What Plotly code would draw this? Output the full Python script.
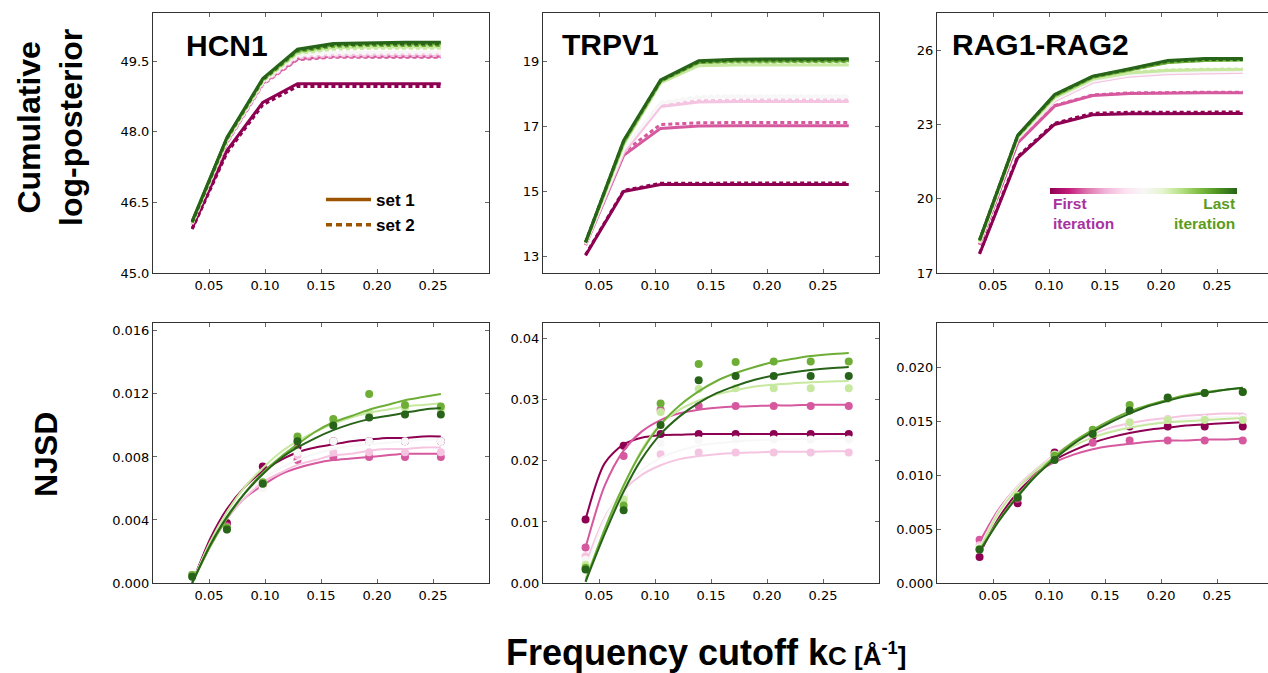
import plotly.graph_objects as go

W, H = 1268, 673

# ---------------- data ----------------
iter_colors = ["#8e0152", "#d6589e", "#f5c4e1", "#f7f7f7", "#c7e89f", "#6eae36", "#276419"]
set_color = "#9c5400"

x_ticks = [0.05, 0.10, 0.15, 0.20, 0.25]
x_ticktext = ["0.05", "0.10", "0.15", "0.20", "0.25"]

# HCN1
kc_hcn1 = [0.035, 0.066, 0.098, 0.129, 0.161, 0.193, 0.225, 0.257]
hcn1_lp_set1 = [
    [45.95, 47.60, 48.62, 49.02, 49.02, 49.02, 49.02, 49.02],
    [46.05, 47.78, 49.03, 49.55, 49.60, 49.60, 49.60, 49.60],
    [46.06, 47.80, 49.05, 49.60, 49.64, 49.65, 49.65, 49.65],
    [46.07, 47.82, 49.07, 49.63, 49.68, 49.69, 49.69, 49.69],
    [46.08, 47.84, 49.09, 49.68, 49.78, 49.80, 49.80, 49.80],
    [46.09, 47.86, 49.11, 49.72, 49.84, 49.86, 49.86, 49.86],
    [46.10, 47.88, 49.13, 49.75, 49.87, 49.89, 49.90, 49.90],
]
hcn1_lp_set2 = [
    [45.93, 47.55, 48.57, 48.96, 48.96, 48.96, 48.96, 48.96],
    [46.03, 47.76, 49.00, 49.53, 49.58, 49.58, 49.58, 49.58],
    [46.04, 47.78, 49.02, 49.57, 49.61, 49.62, 49.62, 49.62],
    [46.05, 47.80, 49.04, 49.60, 49.65, 49.66, 49.66, 49.66],
    [46.06, 47.82, 49.07, 49.66, 49.75, 49.77, 49.77, 49.77],
    [46.07, 47.84, 49.09, 49.70, 49.81, 49.83, 49.83, 49.83],
    [46.08, 47.86, 49.11, 49.73, 49.84, 49.86, 49.86, 49.86],
]
hcn1_njsd = [
    [0.0005, 0.0038, 0.0074, 0.0086, 0.0090, 0.0090, 0.0090, 0.0090],
    [0.0005, 0.0036, 0.0062, 0.0078, 0.0080, 0.0080, 0.0080, 0.0080],
    [0.0005, 0.0035, 0.0061, 0.0081, 0.0083, 0.0083, 0.0083, 0.0083],
    [0.0005, 0.0034, 0.0060, 0.0083, 0.0090, 0.0090, 0.0090, 0.0090],
    [0.0005, 0.0034, 0.0063, 0.0091, 0.0102, 0.0108, 0.0111, 0.0110],
    [0.0005, 0.0035, 0.0064, 0.0093, 0.0104, 0.0120, 0.0113, 0.0112],
    [0.0004, 0.0034, 0.0063, 0.0090, 0.0100, 0.0105, 0.0107, 0.0107],
]
kc_fit_hcn1 = [0.035, 0.051, 0.066, 0.082, 0.098, 0.114, 0.129, 0.145,
               0.161, 0.177, 0.193, 0.209, 0.225, 0.241, 0.257]
hcn1_fit = [
    [0.0000, 0.0028, 0.0047, 0.0061, 0.0071, 0.0078, 0.0083, 0.0086, 0.0088, 0.0090, 0.0091, 0.0092, 0.0092, 0.0093, 0.0093],
    [0.0000, 0.0025, 0.0041, 0.0054, 0.0062, 0.0069, 0.0073, 0.0076, 0.0078, 0.0079, 0.0080, 0.0081, 0.0082, 0.0082, 0.0082],
    [0.0000, 0.0025, 0.0041, 0.0054, 0.0064, 0.0070, 0.0075, 0.0078, 0.0081, 0.0082, 0.0084, 0.0085, 0.0085, 0.0086, 0.0086],
    [0.0000, 0.0025, 0.0043, 0.0056, 0.0066, 0.0073, 0.0078, 0.0082, 0.0085, 0.0087, 0.0088, 0.0089, 0.0090, 0.0091, 0.0091],
    [0.0000, 0.0026, 0.0045, 0.0061, 0.0073, 0.0083, 0.0090, 0.0096, 0.0101, 0.0105, 0.0108, 0.0110, 0.0112, 0.0113, 0.0114],
    [0.0000, 0.0023, 0.0041, 0.0057, 0.0070, 0.0080, 0.0088, 0.0096, 0.0102, 0.0106, 0.0110, 0.0113, 0.0116, 0.0118, 0.0120],
    [0.0000, 0.0024, 0.0042, 0.0057, 0.0069, 0.0079, 0.0086, 0.0092, 0.0097, 0.0101, 0.0104, 0.0106, 0.0108, 0.0110, 0.0111],
]

# TRPV1
kc_trpv1 = [0.038, 0.072, 0.105, 0.139, 0.172, 0.206, 0.239, 0.273]
trpv1_lp_set1 = [
    [13.04, 15.01, 15.22, 15.22, 15.22, 15.22, 15.22, 15.22],
    [13.36, 16.12, 16.95, 17.02, 17.03, 17.03, 17.03, 17.03],
    [13.38, 16.20, 17.62, 17.76, 17.78, 17.78, 17.78, 17.78],
    [13.40, 16.30, 17.72, 17.90, 17.93, 17.93, 17.93, 17.93],
    [13.42, 16.45, 18.35, 18.88, 18.90, 18.90, 18.90, 18.90],
    [13.44, 16.52, 18.40, 18.98, 19.02, 19.03, 19.03, 19.03],
    [13.45, 16.58, 18.44, 19.03, 19.08, 19.09, 19.09, 19.09],
]
trpv1_lp_set2 = [
    [13.06, 15.04, 15.26, 15.27, 15.27, 15.27, 15.27, 15.27],
    [13.37, 16.22, 17.07, 17.12, 17.13, 17.13, 17.13, 17.13],
    [13.39, 16.25, 17.66, 17.80, 17.82, 17.82, 17.82, 17.82],
    [13.41, 16.33, 17.75, 17.94, 17.96, 17.96, 17.96, 17.96],
    [13.43, 16.47, 18.37, 18.90, 18.92, 18.92, 18.92, 18.92],
    [13.44, 16.53, 18.41, 18.98, 19.00, 19.01, 19.01, 19.01],
    [13.45, 16.56, 18.42, 19.00, 19.05, 19.06, 19.06, 19.06],
]
trpv1_njsd = [
    [0.0104, 0.0225, 0.0244, 0.0244, 0.0244, 0.0244, 0.0244, 0.0244],
    [0.0058, 0.0208, 0.0284, 0.0290, 0.0290, 0.0290, 0.0290, 0.0290],
    [0.0044, 0.0143, 0.0211, 0.0214, 0.0214, 0.0214, 0.0214, 0.0214],
    [0.0038, 0.0145, 0.0229, 0.0234, 0.0235, 0.0235, 0.0235, 0.0235],
    [0.0030, 0.0137, 0.0280, 0.0318, 0.0319, 0.0319, 0.0319, 0.0319],
    [0.0025, 0.0127, 0.0294, 0.0359, 0.0362, 0.0363, 0.0363, 0.0363],
    [0.0022, 0.0119, 0.0259, 0.0332, 0.0339, 0.0339, 0.0339, 0.0339],
]
kc_fit_trpv1 = [0.038, 0.055, 0.072, 0.088, 0.105, 0.122, 0.139, 0.155,
                0.172, 0.189, 0.206, 0.222, 0.239, 0.256, 0.273]
trpv1_fit = [
    [0.0104, 0.0196, 0.0227, 0.0238, 0.0242, 0.0243, 0.0244, 0.0244, 0.0244, 0.0244, 0.0244, 0.0244, 0.0244, 0.0244, 0.0244],
    [0.0058, 0.0159, 0.0217, 0.0248, 0.0267, 0.0278, 0.0284, 0.0287, 0.0289, 0.0290, 0.0291, 0.0291, 0.0292, 0.0292, 0.0292],
    [0.0030, 0.0107, 0.0152, 0.0177, 0.0193, 0.0203, 0.0208, 0.0211, 0.0213, 0.0214, 0.0215, 0.0215, 0.0215, 0.0216, 0.0216],
    [0.0020, 0.0104, 0.0155, 0.0185, 0.0205, 0.0217, 0.0225, 0.0229, 0.0232, 0.0234, 0.0235, 0.0236, 0.0236, 0.0237, 0.0237],
    [0.0008, 0.0085, 0.0158, 0.0218, 0.0260, 0.0284, 0.0299, 0.0309, 0.0316, 0.0322, 0.0325, 0.0327, 0.0329, 0.0330, 0.0331],
    [0.0003, 0.0088, 0.0160, 0.0215, 0.0260, 0.0291, 0.0314, 0.0331, 0.0344, 0.0354, 0.0362, 0.0367, 0.0372, 0.0375, 0.0377],
    [0.0002, 0.0080, 0.0150, 0.0203, 0.0244, 0.0273, 0.0295, 0.0311, 0.0323, 0.0333, 0.0340, 0.0345, 0.0349, 0.0352, 0.0354],
]

# RAG1-RAG2
kc_rag = [0.038, 0.072, 0.105, 0.139, 0.172, 0.206, 0.239, 0.273]
rag_lp_set1 = [
    [17.77, 21.65, 23.00, 23.39, 23.43, 23.44, 23.44, 23.44],
    [18.14, 22.25, 23.74, 24.17, 24.25, 24.28, 24.28, 24.28],
    [18.20, 22.40, 23.95, 24.70, 24.95, 25.05, 25.08, 25.10],
    [18.22, 22.43, 24.00, 24.75, 25.00, 25.10, 25.13, 25.15],
    [18.26, 22.48, 24.08, 24.82, 25.08, 25.18, 25.21, 25.22],
    [18.30, 22.52, 24.15, 24.90, 25.20, 25.50, 25.58, 25.60],
    [18.34, 22.56, 24.21, 24.95, 25.25, 25.58, 25.66, 25.66],
]
rag_lp_set2 = [
    [17.80, 21.70, 23.05, 23.45, 23.49, 23.50, 23.50, 23.50],
    [18.15, 22.27, 23.76, 24.19, 24.27, 24.30, 24.30, 24.30],
    [18.21, 22.42, 23.97, 24.72, 24.97, 25.07, 25.10, 25.12],
    [18.23, 22.45, 24.02, 24.77, 25.02, 25.12, 25.15, 25.17],
    [18.27, 22.50, 24.10, 24.84, 25.10, 25.20, 25.23, 25.24],
    [18.31, 22.53, 24.16, 24.91, 25.21, 25.51, 25.59, 25.61],
    [18.33, 22.54, 24.19, 24.93, 25.23, 25.55, 25.62, 25.62],
]
rag_njsd = [
    [0.0024, 0.0074, 0.0121, 0.0136, 0.0145, 0.0145, 0.0145, 0.0145],
    [0.0040, 0.0078, 0.0117, 0.0130, 0.0132, 0.0132, 0.0132, 0.0132],
    [0.0035, 0.0080, 0.0118, 0.0138, 0.0148, 0.0152, 0.0153, 0.0154],
    [0.0033, 0.0080, 0.0118, 0.0138, 0.0148, 0.0151, 0.0152, 0.0153],
    [0.0032, 0.0081, 0.0119, 0.0140, 0.0149, 0.0151, 0.0151, 0.0151],
    [0.0031, 0.0080, 0.0118, 0.0142, 0.0165, 0.0171, 0.0176, 0.0177],
    [0.0031, 0.0079, 0.0114, 0.0138, 0.0160, 0.0172, 0.0176, 0.0177],
]
kc_fit_rag = [0.038, 0.055, 0.072, 0.088, 0.105, 0.122, 0.139, 0.155,
              0.172, 0.189, 0.206, 0.222, 0.239, 0.256, 0.273]
rag_fit = [
    [0.0027, 0.0060, 0.0084, 0.0100, 0.0114, 0.0123, 0.0130, 0.0135, 0.0139, 0.0142, 0.0144, 0.0146, 0.0147, 0.0148, 0.0149],
    [0.0038, 0.0068, 0.0089, 0.0102, 0.0112, 0.0119, 0.0124, 0.0127, 0.0129, 0.0131, 0.0132, 0.0132, 0.0133, 0.0133, 0.0134],
    [0.0033, 0.0067, 0.0090, 0.0105, 0.0119, 0.0130, 0.0138, 0.0144, 0.0148, 0.0151, 0.0153, 0.0155, 0.0156, 0.0157, 0.0157],
    [0.0032, 0.0066, 0.0089, 0.0104, 0.0118, 0.0128, 0.0136, 0.0141, 0.0145, 0.0148, 0.0150, 0.0152, 0.0153, 0.0154, 0.0154],
    [0.0031, 0.0065, 0.0088, 0.0104, 0.0117, 0.0127, 0.0135, 0.0140, 0.0144, 0.0147, 0.0149, 0.0150, 0.0151, 0.0152, 0.0153],
    [0.0030, 0.0058, 0.0081, 0.0100, 0.0117, 0.0131, 0.0142, 0.0151, 0.0159, 0.0165, 0.0170, 0.0174, 0.0177, 0.0179, 0.0181],
    [0.0029, 0.0057, 0.0080, 0.0099, 0.0115, 0.0129, 0.0140, 0.0149, 0.0157, 0.0164, 0.0169, 0.0173, 0.0176, 0.0179, 0.0181],
]

panel_names = ["HCN1", "TRPV1", "RAG1-RAG2"]

# ---------------- figure ----------------
fig = go.Figure()

top_panels = [
    (kc_hcn1, hcn1_lp_set1, hcn1_lp_set2, "x", "y"),
    (kc_trpv1, trpv1_lp_set1, trpv1_lp_set2, "x2", "y2"),
    (kc_rag, rag_lp_set1, rag_lp_set2, "x3", "y3"),
]
DASH = "4px,3px"
for kc, s1, s2, xa, ya in top_panels:
    for i, col in enumerate(iter_colors):
        fig.add_trace(go.Scatter(x=kc, y=s1[i], mode="lines", xaxis=xa, yaxis=ya,
                                 line=dict(color=col, width=3), showlegend=False,
                                 hoverinfo="skip"))
        fig.add_trace(go.Scatter(x=kc, y=s2[i], mode="lines", xaxis=xa, yaxis=ya,
                                 line=dict(color=col, width=3, dash=DASH), showlegend=False,
                                 hoverinfo="skip"))

bottom_panels = [
    (kc_hcn1, hcn1_njsd, kc_fit_hcn1, hcn1_fit, "x4", "y4"),
    (kc_trpv1, trpv1_njsd, kc_fit_trpv1, trpv1_fit, "x5", "y5"),
    (kc_rag, rag_njsd, kc_fit_rag, rag_fit, "x6", "y6"),
]
for kc, pts, kcf, fit, xa, ya in bottom_panels:
    for i, col in enumerate(iter_colors):
        fig.add_trace(go.Scatter(x=kc, y=pts[i], mode="markers", xaxis=xa, yaxis=ya,
                                 marker=dict(color=col, size=8, line=dict(width=0)),
                                 showlegend=False, hoverinfo="skip"))
        fig.add_trace(go.Scatter(x=kcf, y=fit[i], mode="lines", xaxis=xa, yaxis=ya,
                                 line=dict(color=col, width=2, shape="spline", smoothing=0.8),
                                 showlegend=False, hoverinfo="skip"))

# legend entries
fig.add_trace(go.Scatter(x=[None], y=[None], mode="lines", name="set 1",
                         line=dict(color=set_color, width=3.5), xaxis="x", yaxis="y"))
fig.add_trace(go.Scatter(x=[None], y=[None], mode="lines", name="set 2",
                         line=dict(color=set_color, width=3.5, dash="6px,4px"), xaxis="x", yaxis="y"))


def px(xp):
    return xp / W


def py(yp):
    return 1 - yp / H


# colour bar (iteration scale)
fig.add_trace(go.Scatter(
    x=[None], y=[None], mode="markers", xaxis="x3", yaxis="y3", showlegend=False,
    marker=dict(color=[0], cmin=0, cmax=1, colorscale="PiYG", showscale=True,
                colorbar=dict(orientation="h", x=px(1143.5), xanchor="center",
                              y=py(191), yanchor="middle", len=187, lenmode="pixels",
                              thickness=6, thicknessmode="pixels", outlinewidth=0,
                              showticklabels=False, ticks="", xpad=0, ypad=0)),
    hoverinfo="skip"))

# ---------------- layout ----------------
xdom = [(153, 489), (543, 879), (937, 1268)]
ydom_top = (13, 273)
ydom_bot = (323, 583)
xranges = [[0, 0.30], [0, 0.30], [0, 0.30 * 331 / 336]]

tickfont = dict(family="DejaVu Sans", size=13, color="black")


def xax(i):
    return dict(domain=[px(xdom[i][0]), px(xdom[i][1])], range=xranges[i],
                showline=True, linecolor="#333333", linewidth=1, mirror="ticks",
                ticks="inside", ticklen=4, tickcolor="#666666", tickwidth=1,
                tickvals=x_ticks, ticktext=x_ticktext, tickfont=tickfont,
                showgrid=False, zeroline=False, fixedrange=True)


def yax(i, rng, tick0, dtick, fmt, row, anchor):
    y0, y1 = ydom_top if row == 0 else ydom_bot
    return dict(domain=[py(y1), py(y0)], range=rng, anchor=anchor,
                showline=True, linecolor="#333333", linewidth=1,
                mirror=("ticks" if i < 2 else False),
                ticks="inside", ticklen=4, tickcolor="#666666", tickwidth=1,
                tick0=tick0, dtick=dtick, tickformat=fmt, tickfont=tickfont,
                showgrid=False, zeroline=False, fixedrange=True)


layout = dict(
    width=W, height=H, margin=dict(l=0, r=0, t=0, b=0, autoexpand=False),
    paper_bgcolor="white", plot_bgcolor="white",
    showlegend=True,
    legend=dict(x=px(321), y=py(182), xanchor="left", yanchor="top",
                bgcolor="rgba(0,0,0,0)", borderwidth=0, itemwidth=45,
                font=dict(family="Liberation Sans, Arial", size=17, color="black", weight="bold"),
                tracegroupgap=0),
)
layout["xaxis"] = dict(xax(0), anchor="y")
layout["xaxis2"] = dict(xax(1), anchor="y2")
layout["xaxis3"] = dict(xax(2), anchor="y3")
layout["xaxis4"] = dict(xax(0), anchor="y4")
layout["xaxis5"] = dict(xax(1), anchor="y5")
layout["xaxis6"] = dict(xax(2), anchor="y6")
layout["yaxis"] = yax(0, [45.0, 50.52], 45.0, 1.5, ".1f", 0, "x")
layout["yaxis2"] = yax(1, [12.5, 20.5], 13, 2, "d", 0, "x2")
layout["yaxis3"] = yax(2, [17.0, 27.5], 17, 3, "d", 0, "x3")
layout["yaxis4"] = yax(0, [0, 0.0165], 0, 0.004, ".3f", 1, "x4")
layout["yaxis5"] = yax(1, [0, 0.0426], 0, 0.01, ".2f", 1, "x5")
layout["yaxis6"] = yax(2, [0, 0.0241], 0, 0.005, ".3f", 1, "x6")

bold = dict(family="Liberation Sans, Arial", color="black", weight="bold")

annotations = []
title_pos = [(184, 46), (560, 45), (950, 45)]
for name, (tx, ty) in zip(panel_names, title_pos):
    annotations.append(dict(text=name, x=px(tx), y=py(ty), xref="paper", yref="paper",
                            xanchor="left", yanchor="middle", showarrow=False,
                            font=dict(bold, size=30)))
annotations.append(dict(text="Cumulative<br>log-posterior", x=px(50), y=py(128),
                        xref="paper", yref="paper", xanchor="center", yanchor="middle",
                        textangle=-90, showarrow=False, font=dict(bold, size=32)))
annotations.append(dict(text="NJSD", x=px(46), y=py(455), xref="paper", yref="paper",
                        xanchor="center", yanchor="middle", textangle=-90,
                        showarrow=False, font=dict(bold, size=32)))
annotations.append(dict(text="Frequency cutoff k<span style='font-size:26px'>C [Å<sup>-1</sup>]</span>",
                        x=px(706), y=py(652), xref="paper", yref="paper",
                        xanchor="center", yanchor="middle", showarrow=False,
                        font=dict(bold, size=36)))
annotations.append(dict(text="First<br>iteration", x=px(1051), y=py(193), xref="paper",
                        yref="paper", xanchor="left", yanchor="top", align="left",
                        showarrow=False, font=dict(bold, size=15.5, color="#a8339f")))
annotations.append(dict(text="Last<br>iteration", x=px(1237), y=py(193), xref="paper",
                        yref="paper", xanchor="right", yanchor="top", align="right",
                        showarrow=False, font=dict(bold, size=15.5, color="#5b9c1d")))
layout["annotations"] = annotations

fig.update_layout(**layout)
fig.write_html("out.html", config={"displayModeBar": False},
               post_script="document.body.style.margin='0';document.body.style.overflow='hidden';")
